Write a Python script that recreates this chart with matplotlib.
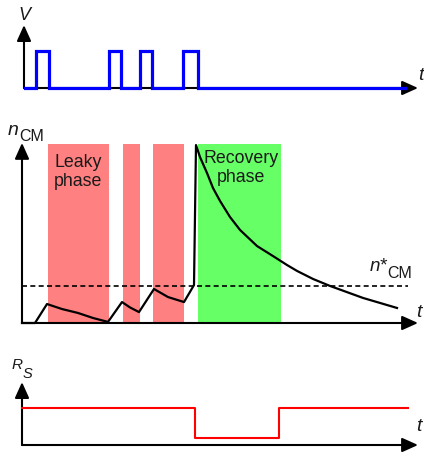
import numpy as np
import matplotlib
matplotlib.use("Agg")
import matplotlib.pyplot as plt

plt.rcParams["font.family"] = ["Liberation Sans", "DejaVu Sans"]

# ── data (time in arbitrary units along the common t axis) ──────────────
# voltage pulses
pulse_start = [36, 109, 140, 183]
pulse_end = [49, 121, 152, 198]
v_t_start, v_t_end = 25, 405
v_high = 1.0

# n_CM trace: leaky phase, spike, recovery decay
n_t = [22, 35, 47, 62, 78, 93, 108, 122, 130, 139, 154, 168, 184, 194, 196,
       200, 207, 213, 220, 230, 240, 257, 273, 287, 297, 313, 330, 363, 397]
n_val = [0.0, 0.0, 0.106, 0.078, 0.056, 0.028, 0.006, 0.117, 0.087, 0.061,
         0.190, 0.145, 0.117, 0.212, 0.994,
         0.927, 0.838, 0.754, 0.682, 0.592, 0.520, 0.430, 0.374, 0.324,
         0.291, 0.246, 0.207, 0.140, 0.084]
n_star = 0.207
leaky_spans = [(48, 109), (123, 140), (153, 184)]
recovery_span = (198, 281)

# R_S steps
rs_t = [22, 195, 195, 279, 279, 408]
rs_val = [1.0, 1.0, 0.19, 0.19, 1.0, 1.0]

W, H = 424, 453
fig = plt.figure(figsize=(W / 100, H / 100), dpi=100)


def panel(top_px, bot_px, zero_px, unit_px):
    ax = fig.add_axes([0, 1 - bot_px / H, 1, (bot_px - top_px) / H])
    ax.set_xlim(0, W)
    ax.set_ylim((zero_px - bot_px) / unit_px, (zero_px - top_px) / unit_px)
    ax.axis("off")
    return ax


def axis_arrows(ax, x0, ytip, xtip):
    props = dict(arrowstyle="-|>,head_length=0.8,head_width=0.36",
                 mutation_scale=12, lw=1.5, color="black",
                 shrinkA=0, shrinkB=0)
    ax.annotate("", xy=(x0, ytip), xytext=(x0, 0), arrowprops=props)
    ax.annotate("", xy=(xtip, 0), xytext=(x0, 0), arrowprops=props)


txt = dict(color="#1a1a1a")

# ── 1. V ──────────────────────────────────────────────────────────────
ax1 = panel(0, 100, 88, 37)
axis_arrows(ax1, 24, 1.70, 418)
vx, vy = [v_t_start], [0]
for s, e in zip(pulse_start, pulse_end):
    vx += [s, s, e, e]
    vy += [0, v_high, v_high, 0]
vx.append(v_t_end)
vy.append(0)
ax1.plot(vx, vy, color="#0000ff", lw=2.3, solid_joinstyle="miter", zorder=3)
ax1.text(24, 1.97, "V", fontsize=13, fontstyle="italic", ha="center", va="center", **txt)
ax1.text(421, 0.33, "t", fontsize=14, fontstyle="italic", ha="center", va="center", **txt)

# ── 2. n_CM ───────────────────────────────────────────────────────────
ax2 = panel(100, 335, 323, 179)
for a, b in leaky_spans:
    ax2.bar(a, 1.0, width=b - a, align="edge", color="#ff8080", lw=0, zorder=1)
ax2.bar(recovery_span[0], 1.0, width=recovery_span[1] - recovery_span[0],
        align="edge", color="#66ff66", lw=0, zorder=1)
ax2.plot([22, 408], [n_star, n_star], color="black", lw=1.2,
         linestyle=(0, (3, 2)), zorder=2)
axis_arrows(ax2, 22, 1.006, 418)
ax2.plot(n_t, n_val, color="black", lw=1.6, zorder=3)
ax2.text(78, 0.843, "Leaky\nphase", fontsize=12.8, ha="center", va="center",
         multialignment="center", linespacing=1.15, zorder=4, **txt)
ax2.text(241, 0.868, "Recovery\nphase", fontsize=12.8, ha="center", va="center",
         multialignment="center", linespacing=1.15, zorder=4, **txt)
ax2.text(13, 1.073, "n", fontsize=14, fontstyle="italic", ha="center", va="center", **txt)
ax2.text(32, 1.043, "CM", fontsize=11.5, ha="center", va="center", **txt)
ax2.text(387, 0.318, "n*", fontsize=13.5, fontstyle="italic", ha="right", va="center", **txt)
ax2.text(387, 0.278, "CM", fontsize=11.5, ha="left", va="center", **txt)
ax2.text(419, 0.056, "t", fontsize=14, fontstyle="italic", ha="center", va="center", **txt)

# ── 3. R_S ────────────────────────────────────────────────────────────
ax3 = panel(335, 453, 445, 37)
axis_arrows(ax3, 22, 1.70, 418)
ax3.plot(rs_t, rs_val, color="#ff0000", lw=1.5, zorder=3)
ax3.text(17, 2.16, "R", fontsize=11, fontstyle="italic", ha="center", va="center", **txt)
ax3.text(27, 1.93, "S", fontsize=10.5, fontstyle="italic", ha="center", va="center", **txt)
ax3.text(419, 0.49, "t", fontsize=14, fontstyle="italic", ha="center", va="center", **txt)

fig.savefig("out.png", dpi=100, facecolor="white")
